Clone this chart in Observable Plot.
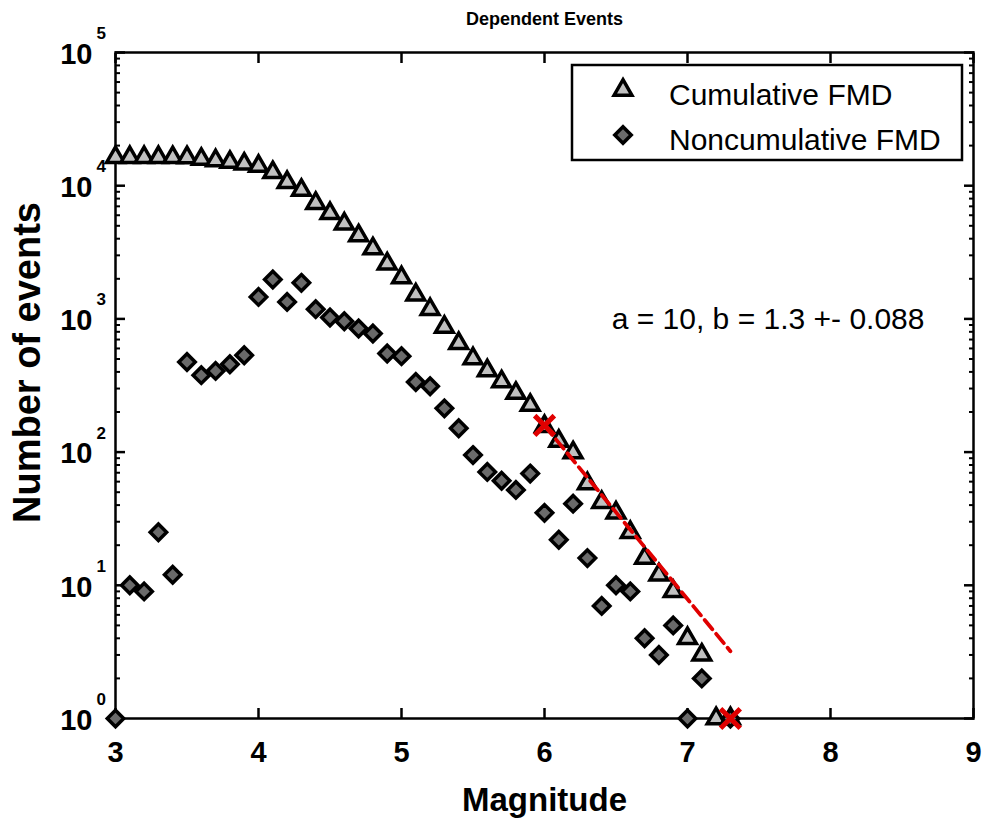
<!DOCTYPE html>
<html>
<head>
<meta charset="utf-8">
<script src="https://cdn.jsdelivr.net/npm/d3@7"></script>
<script src="https://cdn.jsdelivr.net/npm/@observablehq/plot@0.6"></script>
<style>
  html, body { margin: 0; padding: 0; background: #ffffff; }
  #chart { width: 985px; height: 823px; }
</style>
</head>
<body>
<div id="chart"></div>
<script>
// ---- data ----
const magnitudes = [3.0,3.1,3.2,3.3,3.4,3.5,3.6,3.7,3.8,3.9,4.0,4.1,4.2,4.3,4.4,4.5,4.6,4.7,4.8,4.9,
                    5.0,5.1,5.2,5.3,5.4,5.5,5.6,5.7,5.8,5.9,6.0,6.1,6.2,6.3,6.4,6.5,6.6,6.7,6.8,6.9,
                    7.0,7.1,7.2,7.3];
const cumulativeCounts = [16338,16337,16327,16318,16293,16281,15806,15428,15021,14564,
                          14030,12568,10591,9249,7383,6200,5176,4215,3368,2591,
                          2041,1516,1180,868,655,504,409,338,277,225,
                          156,121,99,58,42,35,25,16,12,9,
                          4,3,1,1];
const noncumulativeCounts = [1,10,9,25,12,475,378,407,457,534,
                             1462,1977,1342,1866,1183,1024,961,847,777,550,
                             525,336,312,213,151,95,71,61,52,69,
                             35,22,41,16,7,10,9,4,3,5,
                             1,2,null,1];
const fitMagnitudes = [6.0, 7.3];
const fitCounts = [158.5, 3.2];
const limitMagnitudes = [6.0, 7.3];
const limitCounts = [158.5, 1];
const xTicks = [3,4,5,6,7,8,9];
const xTickLabels = ["3","4","5","6","7","8","9"];
const yTicks = [1,10,100,1000,10000,100000];
const yTickExponents = ["0","1","2","3","4","5"];
const annotationText = "a = 10, b = 1.3 +- 0.088";
const annotationPosition = {m: 6.47, n: 1000};
const titleText = "Dependent Events";
const xLabelText = "Magnitude";
const yLabelText = "Number of events";
const legendLabels = ["Cumulative FMD", "Noncumulative FMD"];

// ---- tables built from the arrays ----
const cumulative = magnitudes.map((m, i) => ({m, n: cumulativeCounts[i]}));
const noncumulative = magnitudes.map((m, i) => ({m, n: noncumulativeCounts[i]})).filter(d => d.n != null && d.n > 0);
const fit = fitMagnitudes.map((m, i) => ({m, n: fitCounts[i]}));
const limits = limitMagnitudes.map((m, i) => ({m, n: limitCounts[i]}));
const xTickData = xTicks.map((v, i) => ({v, label: xTickLabels[i]}));
const yTickData = yTicks.map((v, i) => ({v, exp: yTickExponents[i]}));
const yMinor = [];
for (let k = 0; k < 5; k++) for (let j = 2; j <= 9; j++) yMinor.push(j * Math.pow(10, k));

const FONT = "Arial, 'Liberation Sans', Helvetica, sans-serif";
const RED = "#e00000";
const TRI_FILL = "#c0c0c0";
const DIA_FILL = "#6a6a6a";
const TRI_R = 6.6;
const DIA_R = 7.4;
const MARK_SW = 3.5;

const chart = Plot.plot({
  width: 985,
  height: 823,
  marginLeft: 115,
  marginRight: 12,
  marginTop: 52,
  marginBottom: 105,
  style: {fontFamily: FONT, background: "white", color: "black", overflow: "visible"},
  x: {domain: [3, 9], axis: null},
  y: {type: "log", domain: [1, 1e5], axis: null},
  marks: [
    Plot.frame({stroke: "black", strokeWidth: 2.5}),
    // inward ticks
    Plot.axisX({ticks: xTicks, anchor: "bottom", tickSize: -10, tickFormat: () => "", strokeWidth: 2.5, label: null}),
    Plot.axisX({ticks: xTicks, anchor: "top", tickSize: -10, tickFormat: () => "", strokeWidth: 2.5, label: null}),
    Plot.axisY({ticks: yTicks, anchor: "left", tickSize: -10, tickFormat: () => "", strokeWidth: 2.5, label: null}),
    Plot.axisY({ticks: yTicks, anchor: "right", tickSize: -10, tickFormat: () => "", strokeWidth: 2.5, label: null}),
    Plot.axisY({ticks: yMinor, anchor: "left", tickSize: -5, tickFormat: () => "", strokeWidth: 2, label: null}),
    Plot.axisY({ticks: yMinor, anchor: "right", tickSize: -5, tickFormat: () => "", strokeWidth: 2, label: null}),
    // tick labels
    Plot.text(xTickData, {x: "v", text: "label", frameAnchor: "bottom", textAnchor: "middle", lineAnchor: "middle", dy: 34,
      fontSize: 29, fontWeight: "bold", fill: "black"}),
    Plot.text(yTickData, {y: "v", text: () => "10", frameAnchor: "left", textAnchor: "end", lineAnchor: "middle",
      dx: -23, dy: 2, fontSize: 29, fontWeight: "bold", fill: "black"}),
    Plot.text(yTickData, {y: "v", text: "exp", frameAnchor: "left", textAnchor: "start", lineAnchor: "middle",
      dx: -19, dy: -19, fontSize: 17, fontWeight: "bold", fill: "black"}),
    // axis labels & title
    Plot.text([titleText], {text: d => d, frameAnchor: "top", textAnchor: "middle", lineAnchor: "middle", dy: -33,
      fontSize: 18, fontWeight: "bold", fill: "black"}),
    Plot.text([xLabelText], {text: d => d, frameAnchor: "bottom", textAnchor: "middle", lineAnchor: "middle", dy: 82,
      fontSize: 33, fontWeight: "bold", fill: "black"}),
    Plot.text([yLabelText], {text: d => d, frameAnchor: "left", textAnchor: "middle", lineAnchor: "middle", rotate: -90,
      dx: -88, dy: -23, fontSize: 38, fontWeight: "bold", fill: "black"}),
    // data
    Plot.dot(cumulative, {x: "m", y: "n", symbol: "triangle", r: TRI_R, fill: TRI_FILL, stroke: "black", strokeWidth: MARK_SW}),
    Plot.dot(noncumulative, {x: "m", y: "n", symbol: "diamond2", r: DIA_R, fill: DIA_FILL, stroke: "black", strokeWidth: MARK_SW}),
    Plot.line(fit, {x: "m", y: "n", stroke: RED, strokeWidth: 3.8, strokeDasharray: "12,6"}),
    Plot.dot(limits, {x: "m", y: "n", symbol: "times", r: 9, stroke: RED, strokeWidth: 5}),
    Plot.text([annotationPosition], {x: "m", y: "n", text: () => annotationText, textAnchor: "start",
      lineAnchor: "middle", fontSize: 30, fill: "black"})
  ]
});

document.getElementById("chart").appendChild(chart);

// ---- legend (inside the axes, top right) ----
const svg = d3.select(chart);
const lg = svg.append("g").attr("class", "legend");
lg.append("rect").attr("x", 572).attr("y", 65).attr("width", 390).attr("height", 95)
  .attr("fill", "white").attr("stroke", "black").attr("stroke-width", 2.5);
lg.append("path").attr("d", d3.symbol(d3.symbolTriangle, Math.PI * TRI_R * TRI_R)())
  .attr("transform", "translate(623,90)").attr("fill", TRI_FILL).attr("stroke", "black").attr("stroke-width", MARK_SW);
lg.append("path").attr("d", d3.symbol(d3.symbolDiamond2, Math.PI * DIA_R * DIA_R)())
  .attr("transform", "translate(623,135)").attr("fill", DIA_FILL).attr("stroke", "black").attr("stroke-width", MARK_SW);
legendLabels.forEach((t, i) => {
  lg.append("text").attr("x", 669).attr("y", i === 0 ? 94 : 139)
    .attr("dy", "0.35em").attr("text-anchor", "start").attr("font-family", FONT)
    .attr("font-size", 30).attr("fill", "black").text(t);
});
</script>
</body>
</html>
